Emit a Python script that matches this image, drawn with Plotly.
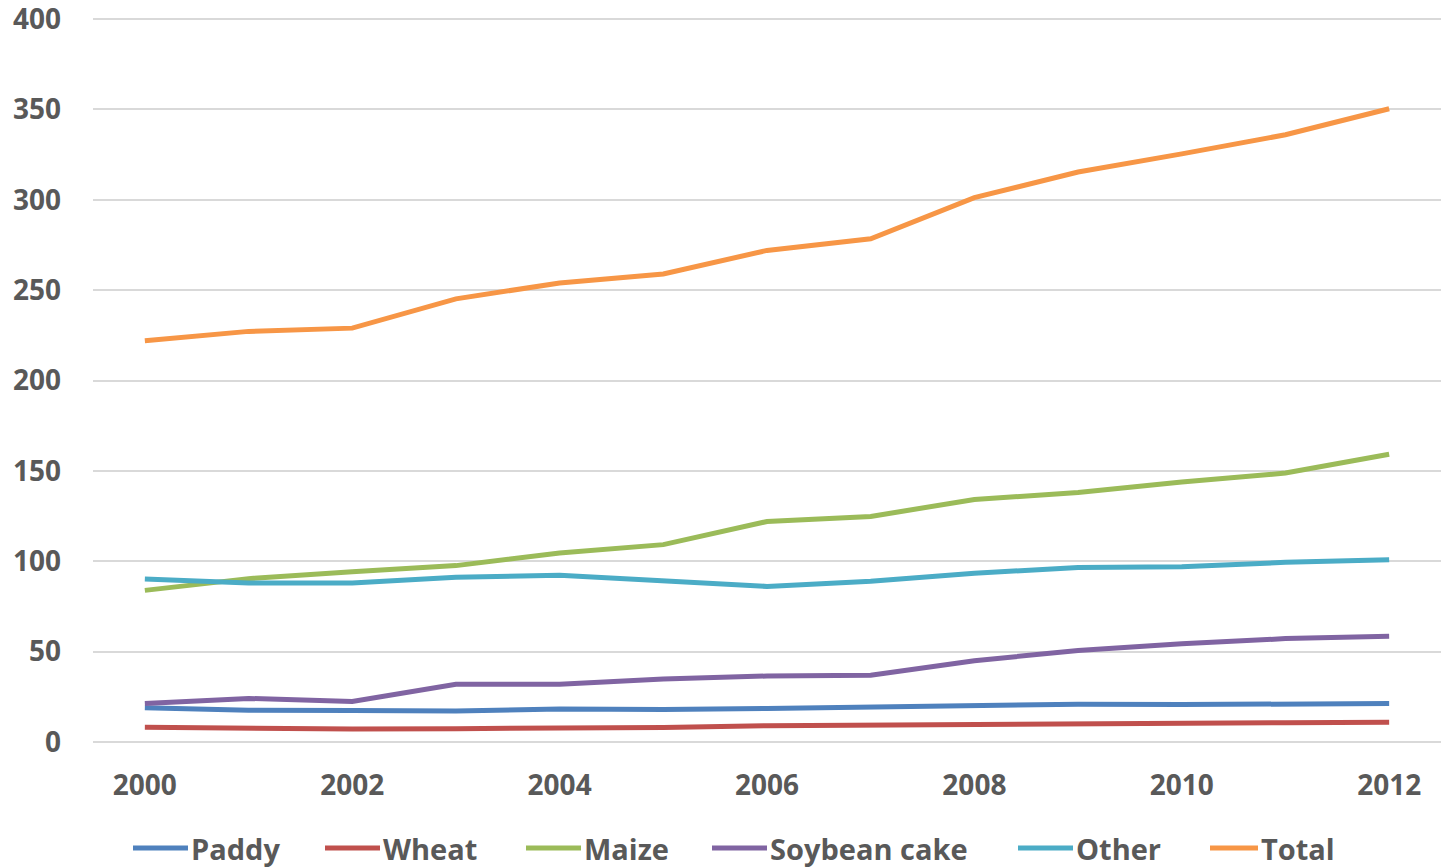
import plotly.graph_objects as go

years = list(range(2000, 2013))
paddy = [18.9, 17.6, 17.4, 17.2, 18.3, 18.0, 18.6, 19.6, 19.9, 20.9, 20.7, 21.0, 21.3]
wheat = [8.1, 7.4, 7.2, 7.4, 7.6, 8.0, 9.0, 9.4, 9.9, 10.4, 10.4, 10.7, 10.9]
maize = [83.9, 90.4, 94.2, 97.6, 104.6, 109.2, 122.0, 124.8, 134.2, 138.0, 143.8, 148.8, 159.2]
soybean = [21.3, 24.1, 22.4, 31.9, 31.9, 34.8, 36.5, 37.0, 45.0, 50.6, 54.3, 57.2, 58.5]
other = [90.2, 88.0, 88.0, 91.1, 92.2, 89.4, 86.1, 88.9, 93.4, 96.6, 96.9, 99.4, 100.9]
total = [222.0, 227.2, 229.0, 245.2, 254.0, 259.0, 272.0, 278.4, 301.2, 315.4, 325.4, 336.0, 350.4]

series = [
    ("Paddy", paddy, "#4F81BD"),
    ("Wheat", wheat, "#C0504D"),
    ("Maize", maize, "#9BBB59"),
    ("Soybean cake", soybean, "#8064A2"),
    ("Other", other, "#4BACC6"),
    ("Total", total, "#F79646"),
]

text_color = "#595959"
grid_color = "#D9D9D9"
font_family = "Open Sans, Lato, sans-serif"

W, H = 1441, 867
M_L, M_R, M_T, M_B = 93, 0, 18, 125
Y_MAX = 400.6
plot_w = W - M_L - M_R
plot_h = H - M_T - M_B

fig = go.Figure()
for name, values, color in series:
    fig.add_trace(go.Scatter(
        x=years, y=values, name=name, mode="lines",
        line=dict(color=color, width=5, shape="linear"),
        showlegend=False,
    ))

# Bottom legend: swatch line followed by label, laid out in pixel offsets
legend_left = [133, 325, 526, 712, 1018, 1210]
swatch_len = [55, 55, 55, 55, 55, 48]
legend_y_px = 848


def px_to_paper_x(px):
    return (px - M_L) / plot_w


def px_to_paper_y(py):
    return (H - M_B - py) / plot_h


ly = px_to_paper_y(legend_y_px)
for (name, _, color), left, sw in zip(series, legend_left, swatch_len):
    fig.add_shape(
        type="line", xref="paper", yref="paper",
        x0=px_to_paper_x(left), x1=px_to_paper_x(left + sw),
        y0=ly, y1=ly,
        line=dict(color=color, width=5), layer="above",
    )
    fig.add_annotation(
        xref="paper", yref="paper",
        x=px_to_paper_x(left + sw + 2), y=ly,
        xanchor="left", yanchor="middle",
        text=name, showarrow=False, borderpad=0,
        font=dict(size=29, family=font_family, color=text_color, weight="bold"),
    )

fig.update_layout(
    width=W, height=H,
    margin=dict(l=M_L, r=M_R, t=M_T, b=M_B),
    paper_bgcolor="white", plot_bgcolor="white",
    font=dict(family=font_family, color=text_color, size=28),
    showlegend=False,
    xaxis=dict(
        range=[1999.5, 2012.5], tick0=2000, dtick=2,
        showgrid=False, zeroline=False, showline=False, ticks="",
        ticklabelstandoff=24, ticklabeloverflow="allow",
        tickfont=dict(size=28, family=font_family, color=text_color, weight="bold"),
    ),
    yaxis=dict(
        range=[0, Y_MAX], dtick=50, tick0=0,
        showgrid=True, gridcolor=grid_color, gridwidth=1.5,
        zeroline=True, zerolinecolor=grid_color, zerolinewidth=1.5,
        showline=False, ticks="",
        ticklabelstandoff=31, ticklabeloverflow="allow",
        tickfont=dict(size=28, family=font_family, color=text_color, weight="bold"),
    ),
)

fig.write_html("out.html")
